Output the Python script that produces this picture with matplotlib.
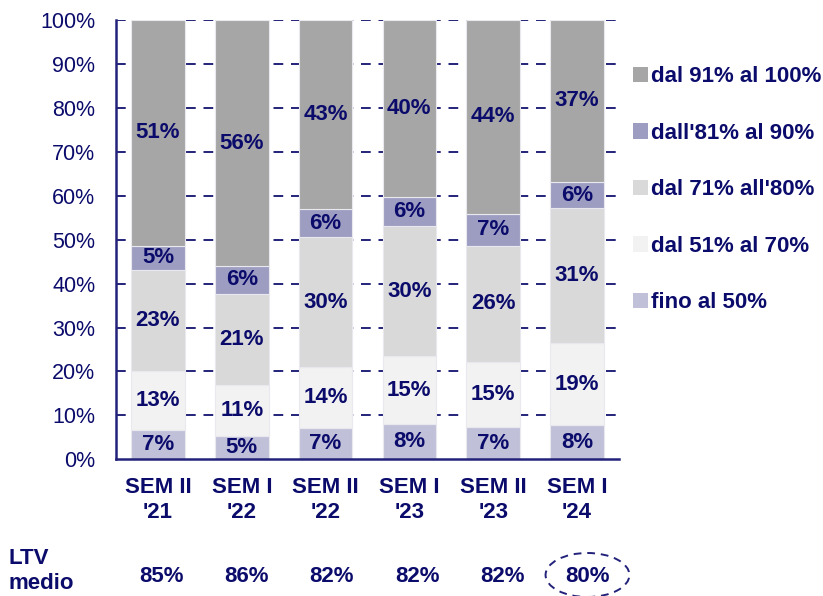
import matplotlib
matplotlib.use("Agg")
import matplotlib.pyplot as plt
from matplotlib.patches import Patch, Ellipse
from matplotlib.transforms import blended_transform_factory

plt.rcParams['font.family'] = ['Liberation Sans', 'DejaVu Sans']

# Semesters
categories = ["SEM II\n'21", "SEM I\n'22", "SEM II\n'22", "SEM I\n'23", "SEM II\n'23", "SEM I\n'24"]

# Share of mortgages by LTV bucket (%), bottom to top
fino_50 = [6.6, 5.4, 7.1, 8.0, 7.3, 7.7]
dal_51_70 = [13.4, 11.4, 13.9, 15.4, 14.9, 18.7]
dal_71_80 = [23.2, 20.9, 29.6, 29.8, 26.4, 30.7]
dal_81_90 = [5.4, 6.3, 6.3, 6.4, 7.3, 6.1]
dal_91_100 = [51.4, 56.0, 43.1, 40.4, 44.1, 36.8]

series_labels = ["fino al 50%", "dal 51% al 70%", "dal 71% all'80%", "dall'81% al 90%", "dal 91% al 100%"]
series_colors = ["#C0C0D8", "#F2F2F2", "#D9D9D9", "#9D9DC2", "#A6A6A6"]

# Average LTV per semester
ltv_medio = [85, 86, 82, 82, 82, 80]

navy = "#0B0B6B"
grid_navy = "#22227A"
fs = 16

fig = plt.figure(figsize=(8.23, 5.96), dpi=100)
ax = fig.add_axes([0.141, 0.2294, 0.611, 0.737])

series = [fino_50, dal_51_70, dal_71_80, dal_81_90, dal_91_100]
x = list(range(len(categories)))
bottoms = [0.0] * len(categories)
for vals, color in zip(series, series_colors):
    ax.bar(x, vals, width=0.64, bottom=bottoms, color=color,
           edgecolor="#E8E8EE", linewidth=0.8, zorder=2)
    for xi, b, v in zip(x, bottoms, vals):
        ax.text(xi, b + v / 2, f"{round(v)}%", ha="center", va="center",
                fontsize=fs, fontweight="bold", color=navy, zorder=3)
    bottoms = [b + v for b, v in zip(bottoms, vals)]

ax.set_xlim(-0.5, len(categories) - 0.5)
ax.set_ylim(0, 100)
ax.set_yticks(range(0, 101, 10))
ax.set_yticklabels([f"{t}%" for t in range(0, 101, 10)])
ax.set_xticks(x)
ax.set_xticklabels(categories, fontsize=fs, fontweight="bold", color=navy, linespacing=1.25)
ax.tick_params(axis="y", length=0, pad=15, labelsize=15.5, labelcolor=navy)
ax.tick_params(axis="x", length=0, pad=13)

for t in range(10, 101, 10):
    ax.axhline(t, color=grid_navy, linestyle=(0, (5, 4)), linewidth=1.4, zorder=1)

for side in ("top", "right"):
    ax.spines[side].set_visible(False)
for side in ("left", "bottom"):
    ax.spines[side].set_color(grid_navy)
    ax.spines[side].set_linewidth(1.8)
    ax.spines[side].set_zorder(4)

handles = [Patch(facecolor=c, edgecolor="none") for c in series_colors][::-1]
leg = ax.legend(handles, series_labels[::-1], loc="upper left",
                bbox_to_anchor=(1.01, 0.915), frameon=False,
                prop={"size": fs, "weight": "bold"},
                handlelength=0.7, handleheight=0.7, handletextpad=0.1,
                labelspacing=1.6, borderaxespad=0)
for txt in leg.get_texts():
    txt.set_color(navy)

# Average LTV row under the chart
trans = blended_transform_factory(ax.transData, fig.transFigure)
fig.text(0.010, 0.042, "LTV\nmedio", ha="left", va="center", fontsize=fs,
         fontweight="bold", color=navy, linespacing=1.3)
row_y = (596 - 576) / 596
for xi, v in zip(x, ltv_medio):
    ax.text(xi * 1.017 + 0.04, row_y, f"{v}%", transform=trans, ha="center",
            va="center", fontsize=fs, fontweight="bold", color=navy)

last = x[-1]
ax.add_patch(Ellipse((last * 1.017 + 0.04, (596 - 575) / 596), width=1.0,
                     height=44 / 596, transform=trans, fill=False,
                     edgecolor=grid_navy, linestyle=(0, (4, 3)), linewidth=1.4,
                     clip_on=False))

fig.savefig("out.png", dpi=100)
